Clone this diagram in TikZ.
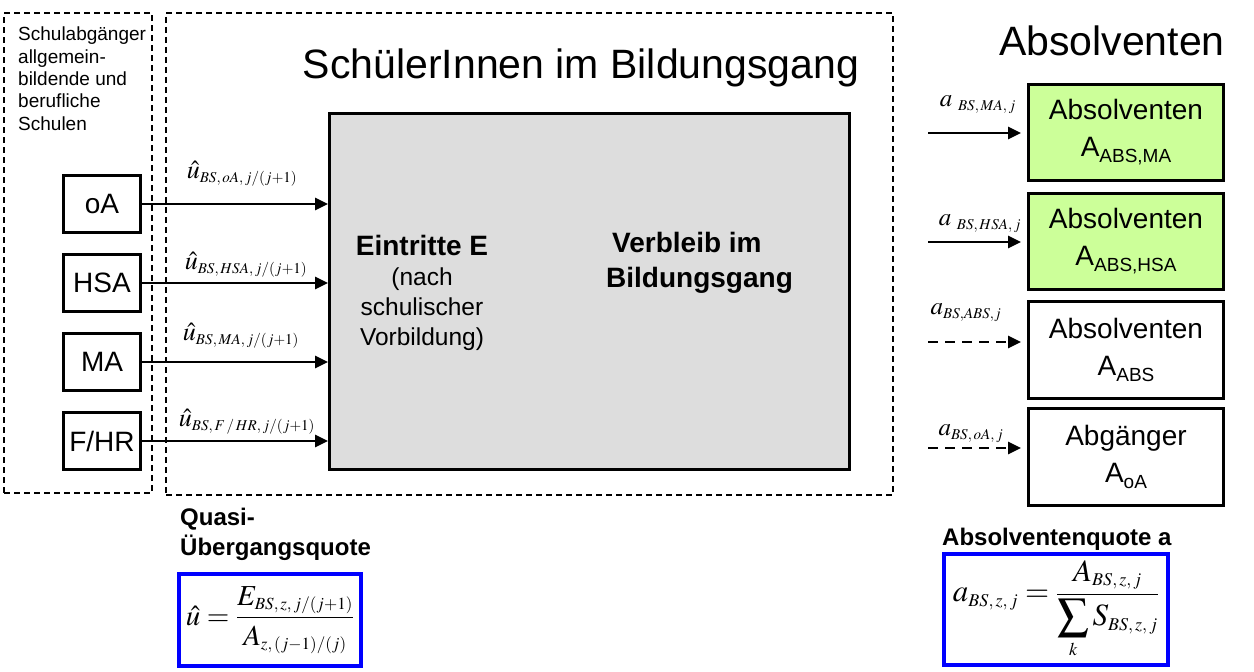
\documentclass[tikz,border=0pt]{standalone}
\usepackage{mathptmx}
\usepackage[no-math]{fontspec}
\setmainfont{Liberation Sans}
\usetikzlibrary{arrows.meta}
\DeclareMathSizes{26}{26}{15}{11}
\DeclareMathSizes{25}{25}{15}{11}
\DeclareMathSizes{29}{29}{17}{12}
\DeclareMathSizes{31}{31}{18}{13}
\definecolor{boxgray}{RGB}{221,221,221}
\definecolor{absgreen}{RGB}{204,255,153}
\definecolor{quoteblue}{RGB}{0,0,255}
\newcommand{\cma}{,\,}
\begin{document}
\begin{tikzpicture}[x=1pt,y=-1pt,
  box/.style={draw, line width=3pt, inner sep=0pt, align=center, font=\fontsize{28}{37}\selectfont},
  dashbox/.style={draw, line width=1.8pt, dash pattern=on 6pt off 4pt, inner sep=0pt},
  arr/.style={line width=2.8pt, -{Triangle[length=13pt,width=12pt]}},
  darr/.style={arr, dash pattern=on 10pt off 7pt},
  lbl/.style={inner sep=0pt, font=\fontsize{26}{30}\selectfont},
  rlbl/.style={inner sep=0pt, font=\fontsize{25}{29}\selectfont},
  bigtxt/.style={inner sep=0pt, font=\fontsize{41}{48}\selectfont},
  boldtxt/.style={inner sep=0pt, font=\bfseries\fontsize{28}{34}\selectfont},
  regtxt/.style={inner sep=0pt, font=\fontsize{24.5}{30}\selectfont},
  quotetxt/.style={inner sep=0pt, font=\bfseries\fontsize{24}{30}\selectfont},
  quotebox/.style={draw=quoteblue, line width=4pt, inner sep=0pt}
]
\useasboundingbox (0,0) rectangle (1254,672);

% dashed frames
\node[dashbox, minimum width=148pt, minimum height=480pt] (left) at (78,253) {};
\node[dashbox, minimum width=727pt, minimum height=482pt] (right) at (529.5,254) {};

\node[anchor=north west, inner sep=0pt, align=left, font=\fontsize{19}{22.3}\selectfont] (schul) at (18,27)
  {Schulabgänger\\allgemein-\\bildende und\\berufliche\\Schulen};

\node[bigtxt, anchor=base] (title) at (581,78) {SchülerInnen im Bildungsgang};
\node[bigtxt, anchor=base east] (abshead) at (1225,55) {Absolventen};

% gray box
\node[draw, line width=3pt, fill=boxgray, minimum width=520pt, minimum height=356pt] (E) at (589.5,291.5) {};
\node[boldtxt, anchor=base] (e1) at (422,255) {Eintritte E};
\node[regtxt, anchor=base] (e2) at (422,285) {(nach};
\node[regtxt, anchor=base] (e3) at (422,315) {schulischer};
\node[regtxt, anchor=base] (e4) at (422,345) {Vorbildung)};
\node[boldtxt, anchor=base west] (v1) at (612,252) {Verbleib im};
\node[boldtxt, anchor=base west] (v2) at (606,287) {Bildungsgang};

% left boxes
\node[box, minimum width=77pt, minimum height=57pt] (oA) at (102,204) {oA};
\node[box, minimum width=77pt, minimum height=57pt] (HSA) at (102,283) {HSA};
\node[box, minimum width=77pt, minimum height=57pt] (MA) at (102,362) {MA};
\node[box, minimum width=77pt, minimum height=57pt] (FHR) at (102,441) {F/HR};

\draw[arr] (oA.east) -- (oA.east -| E.west);
\draw[arr] (HSA.east) -- (HSA.east -| E.west);
\draw[arr] (MA.east) -- (MA.east -| E.west);
\draw[arr] (FHR.east) -- (FHR.east -| E.west);

\node[lbl] (loA) at (242,174) {$\hat{u}_{BS\cma oA\cma j/(j+1)}$};
\node[lbl] (lHSA) at (246,265) {$\hat{u}_{BS\cma HSA\cma j/(j+1)}$};
\node[lbl] (lMA) at (241,336) {$\hat{u}_{BS\cma MA\cma j/(j+1)}$};
\node[lbl] (lFHR) at (247,422) {$\hat{u}_{BS\cma F\,/\,HR\cma j/(j+1)}$};

% right boxes
\node[box, fill=absgreen, minimum width=195pt, minimum height=96pt] (A1) at (1126,132.5)
  {Absolventen\\A\raisebox{-6pt}{\fontsize{19}{19}\selectfont ABS,MA}};
\node[box, fill=absgreen, minimum width=195pt, minimum height=96pt] (A2) at (1126,241.5)
  {Absolventen\\A\raisebox{-6pt}{\fontsize{19}{19}\selectfont ABS,HSA}};
\node[box, minimum width=195pt, minimum height=97pt] (A3) at (1126,350)
  {Absolventen\\A\raisebox{-6pt}{\fontsize{19}{19}\selectfont ABS}};
\node[box, minimum width=195pt, minimum height=97pt] (A4) at (1126,457)
  {Abgänger\\A\raisebox{-6pt}{\fontsize{19}{19}\selectfont oA}};

\coordinate (s1) at (928,133);
\coordinate (s2) at (928,242);
\coordinate (s3) at (928,342);
\coordinate (s4) at (928,448);
\draw[arr, shorten >=6pt] (s1) -- (s1 -| A1.west);
\draw[arr, shorten >=6pt] (s2) -- (s2 -| A2.west);
\draw[darr, shorten >=6pt] (s3) -- (s3 -| A3.west);
\draw[darr, shorten >=6pt] (s4) -- (s4 -| A4.west);

\node[rlbl] (la1) at (978,105) {$a\;_{BS\cma MA\cma j}$};
\node[rlbl] (la2) at (980,224) {$a\;_{BS\cma HSA\cma j}$};
\node[rlbl] (la3) at (966,313) {$a_{BS,ABS,j}$};
\node[rlbl] (la4) at (971,434) {$a_{BS\cma oA\cma j}$};

% quotes
\node[quotetxt, anchor=base west] (q1) at (180,525) {Quasi-};
\node[quotetxt, anchor=base west] (q2) at (180,555) {Übergangsquote};
\node[quotebox, minimum width=182pt, minimum height=92pt, font=\fontsize{29}{34}\selectfont] (Q) at (270,620)
  {$\displaystyle \hat{u}=\frac{E_{BS\cma z\cma j/(j+1)}}{A_{z\cma (j-1)/(j)}}$};

\node[quotetxt, anchor=base west] (aq) at (942,545) {Absolventenquote a};
\node[quotebox, minimum width=224pt, minimum height=111pt, font=\fontsize{31}{36}\selectfont] (AQ) at (1056,609.5)
  {$\displaystyle a_{BS\cma z\cma j}=\frac{A_{BS\cma z\cma j}}{\displaystyle\sum_{k} S_{BS\cma z\cma j}}$};
\end{tikzpicture}
\end{document}
